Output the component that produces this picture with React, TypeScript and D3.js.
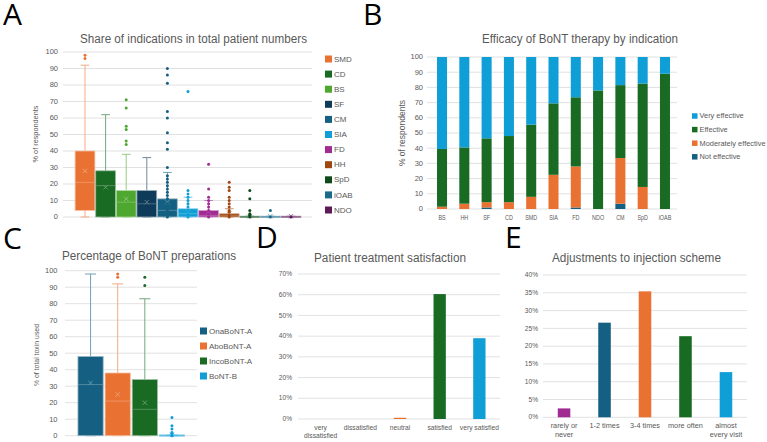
import * as d3 from 'd3';
import React from 'react';

const FONT = '"Liberation Sans", Arial, sans-serif';
const TXT = '#595959';
const GRID = '#d9d9d9';

const BLUE = '#156082';
const ORANGE = '#E97132';
const GREEN = '#196B24';
const SKY = '#0F9ED5';
const MAGENTA = '#A02B93';
const LIME = '#4EA72E';

// A: share of indications (box plots)
const indications = ['SMD', 'CD', 'BS', 'SF', 'CM', 'SIA', 'FD', 'HH', 'SpD', 'iOAB', 'NDO'];
const indicationColors = [ORANGE, GREEN, LIME, '#0E3B59', BLUE, SKY, MAGENTA, '#A0460F', '#0F4A1A', '#1A6A8C', '#5E1A57'];
// [min, q1, median, q3, max, mean]
const indicationStats = [
  [0, 4, 21, 40, 92, 28],
  [0, 0, 19, 28, 62, 18],
  [0, 0, 9, 16, 38, 11],
  [0, 0, 8, 16, 36, 9],
  [0, 0, 4, 11, 27, 9],
  [0, 0, 2, 5, 12, 3],
  [0, 0, 1, 4, 10, 3],
  [0, 0, 1, 2, 5, 2],
  [0, 0, 0, 0.5, 0.5, 0.5],
  [0, 0, 0, 0.5, 0.5, 0.5],
  [0, 0, 0, 0.5, 0.5, 0.5],
];
const indicationPoints = [
  [96, 98],
  [],
  [44, 46, 53, 55, 66, 71],
  [],
  [0, 2, 4, 6, 8, 11, 13, 15, 17, 19, 21, 23, 25, 30, 41, 45, 51, 60, 64, 81, 86, 90],
  [0, 2, 4, 6, 8, 10, 12, 14, 16, 76],
  [0, 2, 4, 6, 8, 10, 12, 17, 32],
  [0, 1, 3, 4, 6, 8, 10, 12, 16, 18, 21],
  [0, 1, 2, 4, 11, 16],
  [0, 4],
  [0],
];

// B: efficacy by indication (stacked %)
const efficacyCats = ['BS', 'HH', 'SF', 'CD', 'SMD', 'SIA', 'FD', 'NDO', 'CM', 'SpD', 'iOAB'];
const notEffective = [0, 0, 1, 0, 0, 0, 1, 0, 3.5, 0, 0];
const moderatelyEffective = [1.5, 3.5, 3.5, 4.5, 8, 22.5, 27, 0, 30, 14.5, 0];
const effective = [38, 37, 42, 43.5, 47.5, 47, 45.5, 78, 48, 68, 89];
const veryEffective = [60.5, 59.5, 53.5, 52, 44.5, 30.5, 26.5, 22, 18.5, 17.5, 11];
const efficacyKeys = ['Not effective', 'Moderately effective', 'Effective', 'Very effective'];
const efficacyColors = [BLUE, ORANGE, GREEN, SKY];

// C: BoNT preparations (box plots)
const preparations = ['OnaBoNT-A', 'AboBoNT-A', 'IncoBoNT-A', 'BoNT-B'];
const preparationColors = [BLUE, ORANGE, GREEN, SKY];
const preparationStats = [
  [0, 0, 31, 48, 98, 32],
  [0, 0, 21, 38, 92, 25],
  [0, 0, 16, 34, 83, 20],
  [0, 0, 0, 0.5, 0.5, 0.5],
];
const preparationPoints = [[], [96, 98], [91, 96], [0, 1, 2, 4, 6, 11]];

// D: satisfaction
const satisfactionCats = ['very\ndissatisfied', 'dissatisfied', 'neutral', 'satisfied', 'very satisfied'];
const satisfactionValues = [0, 0, 0.6, 60.3, 39.0];
const satisfactionColors = [BLUE, BLUE, ORANGE, GREEN, SKY];
const satisfactionTicks = [0, 10, 20, 30, 40, 50, 60, 70];

// E: injection scheme adjustments
const adjustmentCats = ['rarely or\nnever', '1-2 times', '3-4 times', 'more often', 'almost\nevery visit'];
const adjustmentValues = [2.5, 26.6, 35.4, 22.8, 12.7];
const adjustmentColors = [MAGENTA, BLUE, ORANGE, GREEN, SKY];
const adjustmentTicks = [0, 5, 10, 15, 20, 25, 30, 35, 40];

const pctTicks = d3.range(0, 101, 10);

const tint = (c: string, t: number) => d3.interpolateRgb(c, '#ffffff')(t);

interface Frame {
  x0: number;
  x1: number;
  top: number;
  bottom: number;
  gx0: number;
  gx1: number;
}

const Title = ({ x, y, w, text }: { x: number; y: number; w: number; text: string }) => (
  <text x={x} y={y} textAnchor="middle" fontSize={12.5} fill={TXT} textLength={w} lengthAdjust="spacingAndGlyphs">
    {text}
  </text>
);

const YAxis = ({ scale, ticks, x, gx0, gx1, fs = 7.5, fmt }: { scale: d3.ScaleLinear<number, number>; ticks: number[]; x: number; gx0: number; gx1: number; fs?: number; fmt?: (v: number) => string }) => (
  <g>
    {ticks.map((t) => (
      <g key={t}>
        <line x1={gx0} x2={gx1} y1={scale(t)} y2={scale(t)} stroke={GRID} strokeWidth={0.8} />
        <text x={x} y={scale(t)} dy="0.33em" textAnchor="end" fontSize={fs} fill={TXT}>
          {fmt ? fmt(t) : t}
        </text>
      </g>
    ))}
  </g>
);

const YTitle = ({ x, y, text, fs }: { x: number; y: number; text: string; fs: number }) => (
  <text transform={`translate(${x},${y}) rotate(-90)`} textAnchor="middle" fontSize={fs} fill={TXT}>
    {text}
  </text>
);

const Legend = ({ x, y, step, labels, colors, size, fontSize }: { x: number; y: number; step: number; labels: string[]; colors: string[]; size: number; fontSize: number }) => (
  <g>
    {labels.map((l, i) => (
      <g key={l} transform={`translate(${x},${y + i * step})`}>
        <rect x={0} y={-size / 2} width={size} height={size} fill={colors[i]} />
        <text x={size + 2} y={0} dy="0.33em" fontSize={fontSize} fill={TXT}>
          {l}
        </text>
      </g>
    ))}
  </g>
);

const BoxPlots = ({ f, cats, colors, stats, points, padding }: { f: Frame; cats: string[]; colors: string[]; stats: number[][]; points: number[][]; padding: number }) => {
  const x = d3.scaleBand<string>().domain(cats).range([f.x0, f.x1]).paddingInner(padding).paddingOuter(padding / 2);
  const y = d3.scaleLinear().domain([0, 100]).range([f.bottom, f.top]);
  const bw = x.bandwidth();
  return (
    <g>
      {cats.map((c, i) => {
        const [mn, q1, med, q3, mx, mean] = stats[i];
        const cx = (x(c) ?? 0) + bw / 2;
        const light = tint(colors[i], 0.4);
        const cap = bw * 0.22;
        const m = 2.2;
        return (
          <g key={c}>
            <line x1={cx} x2={cx} y1={y(q3)} y2={y(mx)} stroke={light} strokeWidth={1} />
            <line x1={cx} x2={cx} y1={y(q1)} y2={y(mn)} stroke={light} strokeWidth={1} />
            <line x1={cx - cap} x2={cx + cap} y1={y(mx)} y2={y(mx)} stroke={light} strokeWidth={1} />
            <line x1={cx - cap} x2={cx + cap} y1={y(mn)} y2={y(mn)} stroke={light} strokeWidth={1} />
            <rect x={cx - bw / 2} y={y(q3)} width={bw} height={Math.max(1.2, y(q1) - y(q3))} fill={colors[i]} stroke={tint(colors[i], 0.55)} strokeWidth={0.8} />
            <line x1={cx - bw / 2} x2={cx + bw / 2} y1={y(med)} y2={y(med)} stroke={tint(colors[i], 0.3)} strokeWidth={0.8} />
            <path d={`M${cx - m},${y(mean) - m}L${cx + m},${y(mean) + m}M${cx - m},${y(mean) + m}L${cx + m},${y(mean) - m}`} stroke={tint(colors[i], 0.35)} strokeWidth={0.9} />
            {points[i].map((p, j) => (
              <circle key={j} cx={cx} cy={y(p)} r={1.5} fill={colors[i]} />
            ))}
          </g>
        );
      })}
    </g>
  );
};

// category labels, optionally squeezed horizontally, with "\n" line breaks
const CatLabels = ({ x, cats, y, fs, sx = 1 }: { x: d3.ScaleBand<string>; cats: string[]; y: number; fs: number; sx?: number }) => (
  <g>
    {cats.map((c) => (
      <text key={c} transform={`translate(${(x(c) ?? 0) + x.bandwidth() / 2},${y}) scale(${sx},1)`} textAnchor="middle" fontSize={fs} fill={TXT}>
        {c.split('\n').map((line, k) => (
          <tspan key={k} x={0} dy={k === 0 ? 0 : fs * 1.25}>
            {line}
          </tspan>
        ))}
      </text>
    ))}
  </g>
);

const PanelA = () => {
  const f: Frame = { x0: 74.7, x1: 301.3, top: 52, bottom: 217, gx0: 63, gx1: 312 };
  const y = d3.scaleLinear().domain([0, 100]).range([f.bottom, f.top]);
  return (
    <g>
      <Title x={193.5} y={42.5} w={227} text="Share of indications in total patient numbers" />
      <YAxis scale={y} ticks={pctTicks} x={58} gx0={f.gx0} gx1={f.gx1} />
      <YTitle x={38} y={134} fs={7.3} text="% of respondents" />
      <BoxPlots f={f} cats={indications} colors={indicationColors} stats={indicationStats} points={indicationPoints} padding={0.04} />
      <Legend x={325} y={59} step={15.1} labels={indications} colors={indicationColors} size={7} fontSize={8} />
    </g>
  );
};

const PanelB = () => {
  const x = d3.scaleBand<string>().domain(efficacyCats).range([431, 676]).paddingInner(0.55).paddingOuter(0.27);
  const y = d3.scaleLinear().domain([0, 100]).range([209, 57]);
  const rows = efficacyCats.map((c, i) => ({
    cat: c,
    'Not effective': notEffective[i],
    'Moderately effective': moderatelyEffective[i],
    Effective: effective[i],
    'Very effective': veryEffective[i],
  }));
  const series = d3.stack<any>().keys(efficacyKeys)(rows);
  return (
    <g>
      <Title x={580} y={43} w={196} text="Efficacy of BoNT therapy by indication" />
      <YAxis scale={y} ticks={pctTicks} x={423} gx0={427} gx1={677} />
      <YTitle x={405} y={133} fs={8.5} text="% of respondents" />
      {series.map((s, k) => (
        <g key={s.key} fill={efficacyColors[k]}>
          {s.map((d, i) => (
            <rect key={i} x={x(efficacyCats[i])} y={y(d[1])} width={x.bandwidth()} height={Math.max(0, y(d[0]) - y(d[1]))} />
          ))}
        </g>
      ))}
      <CatLabels x={x} cats={efficacyCats} y={219.5} fs={6.6} sx={0.82} />
      <Legend x={692} y={116} step={13.6} labels={[...efficacyKeys].reverse()} colors={[...efficacyColors].reverse()} size={5.5} fontSize={7.4} />
    </g>
  );
};

const PanelC = () => {
  const f: Frame = { x0: 77, x1: 185.5, top: 270.7, bottom: 435.7, gx0: 65, gx1: 197 };
  const y = d3.scaleLinear().domain([0, 100]).range([f.bottom, f.top]);
  return (
    <g>
      <Title x={149} y={260} w={174} text="Percentage of BoNT preparations" />
      <YAxis scale={y} ticks={pctTicks} x={57.5} gx0={f.gx0} gx1={f.gx1} />
      <YTitle x={39} y={355} fs={6.9} text="% of total toxin used" />
      <BoxPlots f={f} cats={preparations} colors={preparationColors} stats={preparationStats} points={preparationPoints} padding={0.07} />
      <Legend x={200} y={331} step={15} labels={preparations} colors={preparationColors} size={7} fontSize={8} />
    </g>
  );
};

const SimpleBars = ({ cats, values, colors, ticks, max, x0, x1, top, bottom, gx0, gx1, labelX, labelY, catFs }: { cats: string[]; values: number[]; colors: string[]; ticks: number[]; max: number; x0: number; x1: number; top: number; bottom: number; gx0: number; gx1: number; labelX: number; labelY: number; catFs: number }) => {
  const x = d3.scaleBand<string>().domain(cats).range([x0, x1]).paddingInner(0.69).paddingOuter(0.34);
  const y = d3.scaleLinear().domain([0, max]).range([bottom, top]);
  return (
    <g>
      <YAxis scale={y} ticks={ticks} x={labelX} gx0={gx0} gx1={gx1} fs={6.6} fmt={(v) => `${v}%`} />
      {cats.map((c, i) => (
        <rect key={c} x={x(c)} y={y(values[i])} width={x.bandwidth()} height={bottom - y(values[i])} fill={colors[i]} />
      ))}
      <CatLabels x={x} cats={cats} y={labelY} fs={catFs} />
    </g>
  );
};

const PanelD = () => (
  <g>
    <Title x={390} y={262} w={152} text="Patient treatment satisfaction" />
    <SimpleBars cats={satisfactionCats} values={satisfactionValues} colors={satisfactionColors} ticks={satisfactionTicks} max={70} x0={301} x1={499} top={274} bottom={419} gx0={298} gx1={500} labelX={292} labelY={429.5} catFs={6.7} />
  </g>
);

const PanelE = () => (
  <g>
    <Title x={636.5} y={261.5} w={169} text="Adjustments to injection scheme" />
    <SimpleBars cats={adjustmentCats} values={adjustmentValues} colors={adjustmentColors} ticks={adjustmentTicks} max={40} x0={544} x1={746} top={275} bottom={417.3} gx0={543} gx1={747} labelX={538} labelY={428} catFs={7.3} />
  </g>
);

const letters = [
  { t: 'A', x: 3, y: 25 },
  { t: 'B', x: 363, y: 25 },
  { t: 'C', x: 3, y: 249 },
  { t: 'D', x: 256, y: 248 },
  { t: 'E', x: 505, y: 248 },
];

export default function App() {
  return (
    <svg width={767} height={442} style={{ position: 'absolute', left: 0, top: 0, background: '#fff' }} fontFamily={FONT}>
      <rect width={767} height={442} fill="#fff" />
      <PanelA />
      <PanelB />
      <PanelC />
      <PanelD />
      <PanelE />
      {letters.map((l) => (
        <text key={l.t} x={l.x} y={l.y} fontSize={30} fontFamily='"Open Sans", "Noto Sans", sans-serif' fill="#000">
          {l.t}
        </text>
      ))}
    </svg>
  );
}
